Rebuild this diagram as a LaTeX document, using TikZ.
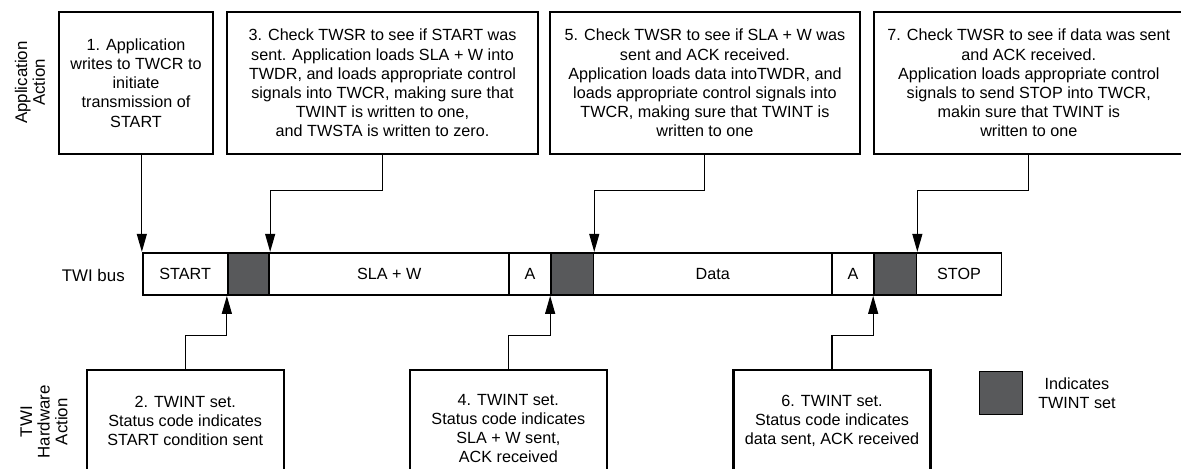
\documentclass[tikz,border=0pt]{standalone}
\usepackage{fontspec}
\setmainfont{Liberation Sans}
\usetikzlibrary{arrows.meta,positioning}
\definecolor{twiDark}{RGB}{88,89,91}

\begin{document}
\begin{tikzpicture}[x=0.025cm,y=-0.025cm,
    box/.style={draw,line width=1.5pt,align=center,inner sep=0pt,
                font=\fontsize{11.5}{13.6}\selectfont},
    topbox/.style={box,minimum height=3.565cm},
    lowbox/.style={box,minimum width=4.925cm},
    seg/.style={draw,line width=1.2pt,minimum height=1.0575cm,inner sep=0pt,
                font=\fontsize{11.5}{13.6}\selectfont},
    flag/.style={seg,fill=twiDark},
    side/.style={align=center,rotate=90,font=\fontsize{12}{12.5}\selectfont},
    arr/.style={-{Triangle[length=0.45cm,width=0.25cm]},line width=0.8pt}]

    \useasboundingbox (0,0) rectangle (1181,468);
    \clip (0,0) rectangle (1181,468);

    % Side labels
    \node[side] (appl) at (30,82.5) {Application\\Action};
    \node[side] (hwl) at (44,421.7) {TWI\\Hardware\\Action};
    \node[font=\fontsize{12}{12.5}\selectfont] (busl) at (93.3,275) {TWI bus};

    % Bus
    \foreach \n/\cx/\w/\t in {bstart/185.2/2.125/START, bsla/389.15/5.9925/SLA + W,
        back1/530/1.05/A, bdata/712.7/5.965/Data, back2/853/1.05/A,
        bstop/959.05/2.1275/STOP} {
      \node[seg,minimum width=\w cm] (\n) at (\cx,273.85) {\t};
    }
    \foreach \n/\cx/\w in {bt1/248.5/1.04, bt2/572.2/1.06, bt3/895.25/1.0625} {
      \node[flag,minimum width=\w cm] (\n) at (\cx,273.85) {};
    }

    % Application action
    \node[topbox,minimum width=3.85cm] (s1) at (136,83)
      {1. Application\\writes to TWCR to\\initiate\\transmission of\\START};
    \node[topbox,minimum width=7.76cm] (s3) at (382.5,83)
      {3. Check TWSR to see if START was\\sent. Application loads SLA + W into\\TWDR, and loads appropriate control\\signals into TWCR, making sure that\\TWINT is written to one,\\and TWSTA is written to zero.};
    \node[topbox,minimum width=7.76cm] (s5) at (704.9,83)
      {5. Check TWSR to see if SLA + W was\\sent and ACK received.\\Application loads data intoTWDR, and\\loads appropriate control signals into\\TWCR, making sure that TWINT is\\written to one};
    \node[topbox,minimum width=7.76cm] (s7) at (1028.8,83)
      {7. Check TWSR to see if data was sent\\and ACK received.\\Application loads appropriate control\\signals to send STOP into TWCR,\\makin sure that TWINT is\\written to one};

    % TWI hardware action
    \node[lowbox,minimum height=2.55cm] (s2) at (185.2,421)
      {2. TWINT set.\\Status code indicates\\START condition sent};
    \node[lowbox,minimum height=2.935cm] (s4) at (508.35,428.7)
      {4. TWINT set.\\Status code indicates\\SLA + W sent,\\ACK received};
    \node[lowbox,minimum height=2.55cm] (s6) at (832,421)
      {6. TWINT set.\\Status code indicates\\data sent, ACK received};

    % Legend
    \node[draw,line width=1.2pt,fill=twiDark,minimum size=1.075cm,inner sep=0pt]
      (legsq) at (1001,393) {};
    \node[align=center,right=0.25cm of legsq,font=\fontsize{11.5}{13.6}\selectfont]
      (legtxt) {Indicates\\TWINT set};

    % Arrows down
    \draw[arr] (s1.south -| bstart.north west) -- (bstart.north west);
    \draw[arr] (s3.south) -- ++(0,35) -| (bt1.north east);
    \draw[arr] (s5.south) -- ++(0,35) -| (bt2.north east);
    \draw[arr] (s7.south) -- ++(0,35) -| (bt3.north east);

    % Arrows up
    \draw[arr] (s2.north) -- ++(0,-33.3) -| (bt1.south west);
    \draw[arr] (s4.north) -- ++(0,-33.3) -| (bt2.south west);
    \draw[arr] (s6.north) -- ++(0,-33.3) -| (bt3.south west);
\end{tikzpicture}
\end{document}
